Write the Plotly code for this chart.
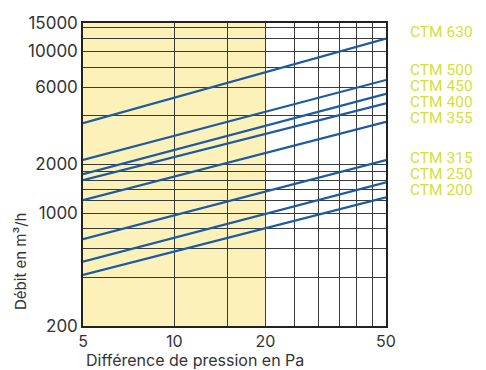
import plotly.graph_objects as go

# Data
pressure = [5, 50]
series_names = ["CTM 630", "CTM 500", "CTM 450", "CTM 400", "CTM 355", "CTM 315", "CTM 250", "CTM 200"]
flow_5 = [3600, 2130, 1740, 1600, 1200, 690, 500, 414]
flow_50 = [12000, 6660, 5460, 4780, 3670, 2130, 1550, 1250]

x_ticks = [5, 10, 15, 20, 25, 30, 35, 40, 45, 50]
x_ticklabels = ["5", "10", "", "20", "", "", "", "", "", "50"]
y_ticks = [200, 400, 600, 800, 1000, 1200, 1400, 1600, 1800, 2000, 4000, 6000, 8000, 10000, 12000, 14000, 15000]
y_ticklabels = ["200", "", "", "", "1000", "", "", "", "", "2000", "", "6000", "", "10000", "", "", "15000"]

# label vertical positions (pixels from top of image)
label_py = [32, 70, 86, 102, 118, 158, 174, 190]

W, H = 486, 370
L, R, T, B = 83, 100, 23, 44
plot_w = W - L - R
plot_h = H - T - B

fig = go.Figure()
for name, a, b in zip(series_names, flow_5, flow_50):
    fig.add_trace(go.Scatter(x=pressure, y=[a, b], mode="lines", name=name,
                             line=dict(color="#1d5aa3", width=2.2), showlegend=False,
                             hoverinfo="skip"))

fig.add_shape(type="rect", xref="x", yref="paper", x0=5, x1=20, y0=0, y1=1,
              fillcolor="#fcf2b9", line=dict(width=0), layer="below")

for name, py in zip(series_names, label_py):
    fig.add_annotation(text=name, xref="paper", yref="paper", x=(408 - L) / plot_w,
                       y=(H - B - py) / plot_h, xanchor="left", yanchor="middle",
                       showarrow=False, font=dict(family="Roboto", size=15.5, color="#d6de3c"))

fig.add_annotation(text="Débit en m³/h", xref="paper", yref="paper",
                   x=(20 - L) / plot_w, y=(H - B - 262) / plot_h, textangle=-90,
                   xanchor="center", yanchor="middle", showarrow=False,
                   font=dict(family="Inter", size=15, color="#333333"))
fig.add_annotation(text="Différence de pression en Pa", xref="paper", yref="paper",
                   x=(84 - L) / plot_w, y=(H - B - 360) / plot_h,
                   xanchor="left", yanchor="middle", showarrow=False,
                   font=dict(family="Inter", size=16, color="#333333"))

fig.update_xaxes(type="log", range=[0.69897, 1.69897], tickvals=x_ticks, ticktext=x_ticklabels,
                 showgrid=True, gridcolor="#3a3a3a", gridwidth=1, showline=True, mirror=True,
                 linecolor="#222222", linewidth=1.5, ticks="", zeroline=False, automargin=False,
                 tickfont=dict(family="Inter", size=16, color="#333333"))
fig.update_yaxes(type="log", range=[2.30103, 4.176091], tickvals=y_ticks, ticktext=y_ticklabels,
                 showgrid=True, gridcolor="#3a3a3a", gridwidth=1, showline=True, mirror=True,
                 linecolor="#222222", linewidth=1.5, ticks="", zeroline=False, automargin=False,
                 tickfont=dict(family="Inter", size=17, color="#333333"))

fig.update_layout(width=W, height=H, margin=dict(l=L, r=R, t=T, b=B),
                  paper_bgcolor="white", plot_bgcolor="white", hovermode=False)

fig.write_html("out.html", post_script="document.body.style.margin='0';",
               config={"displayModeBar": False})
